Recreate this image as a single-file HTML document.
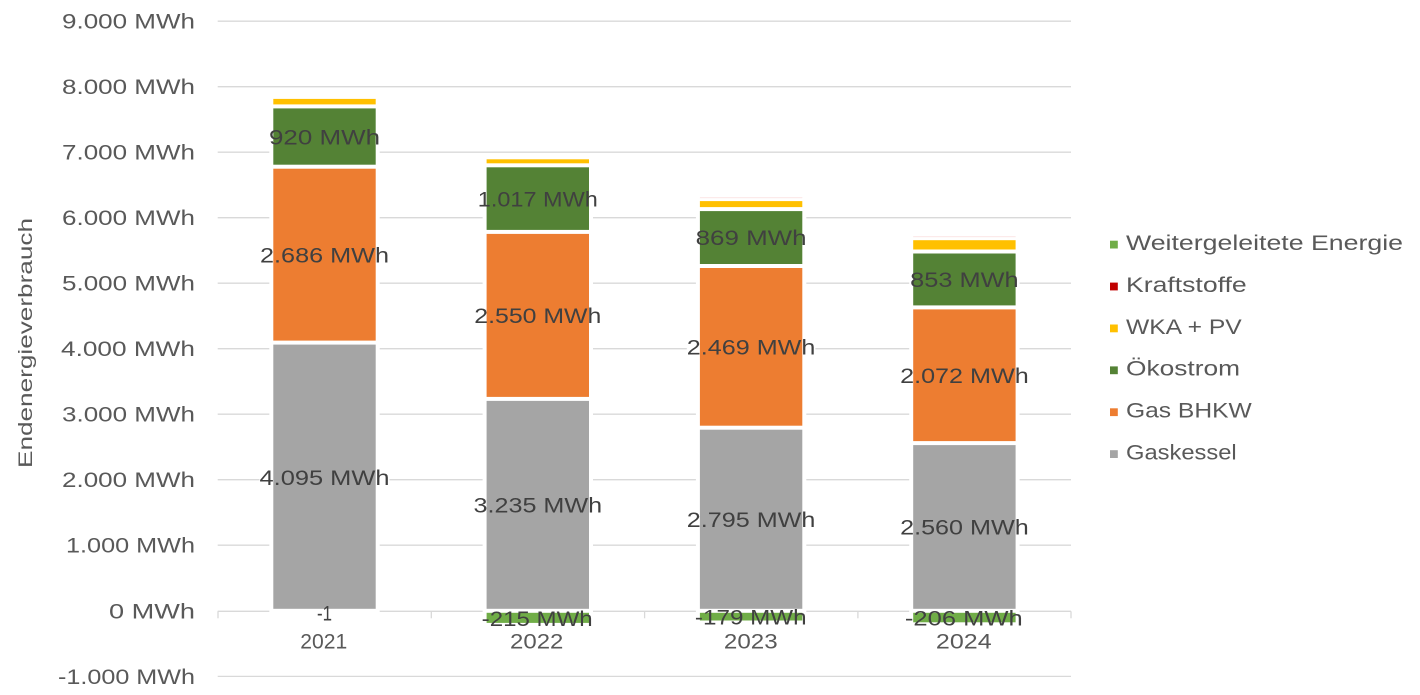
<!DOCTYPE html>
<html><head><meta charset="utf-8"><style>
html,body{margin:0;padding:0;background:#fff;}
svg{display:block;}
text{font-family:"Liberation Sans",sans-serif;}
</style></head><body>
<svg width="1420" height="695" viewBox="0 0 1420 695" xmlns="http://www.w3.org/2000/svg">
<rect x="0" y="0" width="1420" height="695" fill="#fff"/>
<!-- gridlines -->
<g stroke="#d9d9d9" stroke-width="1.3">
<line x1="217.7" x2="1071" y1="21.2" y2="21.2"/>
<line x1="217.7" x2="1071" y1="86.7" y2="86.7"/>
<line x1="217.7" x2="1071" y1="152.2" y2="152.2"/>
<line x1="217.7" x2="1071" y1="217.7" y2="217.7"/>
<line x1="217.7" x2="1071" y1="283.2" y2="283.2"/>
<line x1="217.7" x2="1071" y1="348.7" y2="348.7"/>
<line x1="217.7" x2="1071" y1="414.2" y2="414.2"/>
<line x1="217.7" x2="1071" y1="479.7" y2="479.7"/>
<line x1="217.7" x2="1071" y1="545.2" y2="545.2"/>
<line x1="217.7" x2="1071" y1="676.4" y2="676.4"/>
<line x1="217.7" x2="1071" y1="611.3" y2="611.3"/>
<line x1="218" x2="218" y1="611.3" y2="618.3"/>
<line x1="431.3" x2="431.3" y1="611.3" y2="618.3"/>
<line x1="644.6" x2="644.6" y1="611.3" y2="618.3"/>
<line x1="857.9" x2="857.9" y1="611.3" y2="618.3"/>
<line x1="1071" x2="1071" y1="611.3" y2="618.3"/>
</g>
<!-- white areas behind labels -->
<g fill="#fff">
<rect x="259.5" y="465.7" width="130" height="22"/>
<rect x="260" y="243.6" width="129" height="22"/>
<rect x="269" y="125.5" width="111" height="22"/>
<rect x="473.5" y="493.8" width="128.6" height="22"/>
<rect x="474.3" y="304.4" width="127" height="22"/>
<rect x="477.8" y="187.6" width="120" height="22"/>
<rect x="686.8" y="508.2" width="128.6" height="22"/>
<rect x="686.8" y="335.8" width="128.6" height="22"/>
<rect x="695.6" y="226.5" width="111" height="22"/>
<rect x="900.1" y="516" width="128.6" height="22"/>
<rect x="900.1" y="364.2" width="128.6" height="22"/>
<rect x="910.2" y="268.4" width="108.4" height="22"/>
</g>
<!-- white borders around bars -->
<g fill="#fff">
<rect x="269.3" y="94.9" width="110.4" height="518"/>
<rect x="482.6" y="155.3" width="110.4" height="471.6"/>
<rect x="695.9" y="195.5" width="110.4" height="429"/>
<rect x="909.2" y="234.5" width="110.4" height="391.8"/>
</g>
<!-- bars 2021 -->
<rect x="273.3" y="344.6" width="102.4" height="264.2" fill="#A5A5A5"/>
<rect x="273.3" y="168.7" width="102.4" height="171.9" fill="#ED7D31"/>
<rect x="273.3" y="108.4" width="102.4" height="56.3" fill="#548235"/>
<rect x="273.3" y="98.9" width="102.4" height="5.5" fill="#FFC000"/>
<!-- bars 2022 -->
<rect x="486.6" y="400.9" width="102.4" height="207.9" fill="#A5A5A5"/>
<rect x="486.6" y="233.9" width="102.4" height="163" fill="#ED7D31"/>
<rect x="486.6" y="167.3" width="102.4" height="62.6" fill="#548235"/>
<rect x="486.6" y="159.3" width="102.4" height="4" fill="#FFC000"/>
<rect x="486.6" y="612.8" width="102.4" height="10.1" fill="#70AD47"/>
<!-- bars 2023 -->
<rect x="699.9" y="429.7" width="102.4" height="179.1" fill="#A5A5A5"/>
<rect x="699.9" y="268" width="102.4" height="157.7" fill="#ED7D31"/>
<rect x="699.9" y="211.1" width="102.4" height="52.9" fill="#548235"/>
<rect x="699.9" y="201.1" width="102.4" height="6" fill="#FFC000"/>
<rect x="699.9" y="197.2" width="102.4" height="1" fill="#fbe4e4"/>
<rect x="699.9" y="612.8" width="102.4" height="7.7" fill="#70AD47"/>
<!-- bars 2024 -->
<rect x="913.2" y="445.1" width="102.4" height="163.7" fill="#A5A5A5"/>
<rect x="913.2" y="309.4" width="102.4" height="131.7" fill="#ED7D31"/>
<rect x="913.2" y="253.5" width="102.4" height="51.9" fill="#548235"/>
<rect x="913.2" y="240.2" width="102.4" height="9.3" fill="#FFC000"/>
<rect x="913.2" y="236.2" width="102.4" height="1" fill="#fbe4e4"/>
<rect x="913.2" y="612.8" width="102.4" height="9.5" fill="#70AD47"/>
<!-- data labels -->
<g font-size="21" fill="#404040" text-anchor="middle" lengthAdjust="spacingAndGlyphs">
<text x="324.5" y="485" textLength="130" lengthAdjust="spacingAndGlyphs">4.095 MWh</text>
<text x="324.5" y="262.4" textLength="129" lengthAdjust="spacingAndGlyphs">2.686 MWh</text>
<text x="324.5" y="144.4" textLength="111" lengthAdjust="spacingAndGlyphs">920 MWh</text>
<text x="324.5" y="620.5" textLength="15" lengthAdjust="spacingAndGlyphs">-1</text>
<text x="537.8" y="512.6" textLength="128.6" lengthAdjust="spacingAndGlyphs">3.235 MWh</text>
<text x="537.8" y="323.1" textLength="127" lengthAdjust="spacingAndGlyphs">2.550 MWh</text>
<text x="537.8" y="206.3" textLength="120" lengthAdjust="spacingAndGlyphs">1.017 MWh</text>
<text x="537.2" y="625.8" textLength="111" lengthAdjust="spacingAndGlyphs">-215 MWh</text>
<text x="751.1" y="527" textLength="128.6" lengthAdjust="spacingAndGlyphs">2.795 MWh</text>
<text x="751.1" y="354.6" textLength="128.6" lengthAdjust="spacingAndGlyphs">2.469 MWh</text>
<text x="751.1" y="245.2" textLength="111" lengthAdjust="spacingAndGlyphs">869 MWh</text>
<text x="750.8" y="624.6" textLength="111.7" lengthAdjust="spacingAndGlyphs">-179 MWh</text>
<text x="964.4" y="534.7" textLength="128.6" lengthAdjust="spacingAndGlyphs">2.560 MWh</text>
<text x="964.4" y="383" textLength="128.6" lengthAdjust="spacingAndGlyphs">2.072 MWh</text>
<text x="964.4" y="287.2" textLength="108.4" lengthAdjust="spacingAndGlyphs">853 MWh</text>
<text x="963.8" y="625.5" textLength="117.7" lengthAdjust="spacingAndGlyphs">-206 MWh</text>
</g>
<!-- y tick labels -->
<g font-size="21" fill="#595959" text-anchor="end">
<text x="195" y="28.5" textLength="133" lengthAdjust="spacingAndGlyphs">9.000 MWh</text>
<text x="195" y="94" textLength="133" lengthAdjust="spacingAndGlyphs">8.000 MWh</text>
<text x="195" y="159.5" textLength="133" lengthAdjust="spacingAndGlyphs">7.000 MWh</text>
<text x="195" y="225" textLength="133" lengthAdjust="spacingAndGlyphs">6.000 MWh</text>
<text x="195" y="290.5" textLength="133" lengthAdjust="spacingAndGlyphs">5.000 MWh</text>
<text x="195" y="356" textLength="134" lengthAdjust="spacingAndGlyphs">4.000 MWh</text>
<text x="195" y="421.5" textLength="133" lengthAdjust="spacingAndGlyphs">3.000 MWh</text>
<text x="195" y="487" textLength="133" lengthAdjust="spacingAndGlyphs">2.000 MWh</text>
<text x="195" y="552.5" textLength="129" lengthAdjust="spacingAndGlyphs">1.000 MWh</text>
<text x="195" y="618.5" textLength="86" lengthAdjust="spacingAndGlyphs">0 MWh</text>
<text x="195" y="684" textLength="137" lengthAdjust="spacingAndGlyphs">-1.000 MWh</text>
</g>
<!-- x category labels -->
<g font-size="21" fill="#595959" text-anchor="middle">
<text x="323.8" y="648.3" textLength="47" lengthAdjust="spacingAndGlyphs">2021</text>
<text x="536.7" y="648.3" textLength="53.3" lengthAdjust="spacingAndGlyphs">2022</text>
<text x="750.8" y="648.3" textLength="53.7" lengthAdjust="spacingAndGlyphs">2023</text>
<text x="963.8" y="648.3" textLength="55.7" lengthAdjust="spacingAndGlyphs">2024</text>
</g>
<!-- y axis title -->
<text transform="translate(32,343) rotate(-90)" font-size="19" fill="#595959" text-anchor="middle" textLength="250" lengthAdjust="spacingAndGlyphs">Endenergieverbrauch</text>
<!-- legend -->
<rect x="1110" y="240.7" width="7.8" height="7.8" fill="#70AD47"/>
<rect x="1110" y="282.6" width="7.8" height="7.8" fill="#C00000"/>
<rect x="1110" y="324.5" width="7.8" height="7.8" fill="#FFC000"/>
<rect x="1110" y="366.4" width="7.8" height="7.8" fill="#548235"/>
<rect x="1110" y="408.3" width="7.8" height="7.8" fill="#ED7D31"/>
<rect x="1110" y="450.2" width="7.8" height="7.8" fill="#A5A5A5"/>
<g font-size="21" fill="#595959">
<text x="1126" y="250" textLength="277" lengthAdjust="spacingAndGlyphs">Weitergeleitete Energie</text>
<text x="1126" y="291.9" textLength="120.7" lengthAdjust="spacingAndGlyphs">Kraftstoffe</text>
<text x="1126" y="333.8" textLength="115.7" lengthAdjust="spacingAndGlyphs">WKA + PV</text>
<text x="1126" y="375.7" textLength="114" lengthAdjust="spacingAndGlyphs">Ökostrom</text>
<text x="1126" y="417.6" textLength="125.7" lengthAdjust="spacingAndGlyphs">Gas BHKW</text>
<text x="1126" y="459.5" textLength="110.7" lengthAdjust="spacingAndGlyphs">Gaskessel</text>
</g>
</svg>
</body></html>
